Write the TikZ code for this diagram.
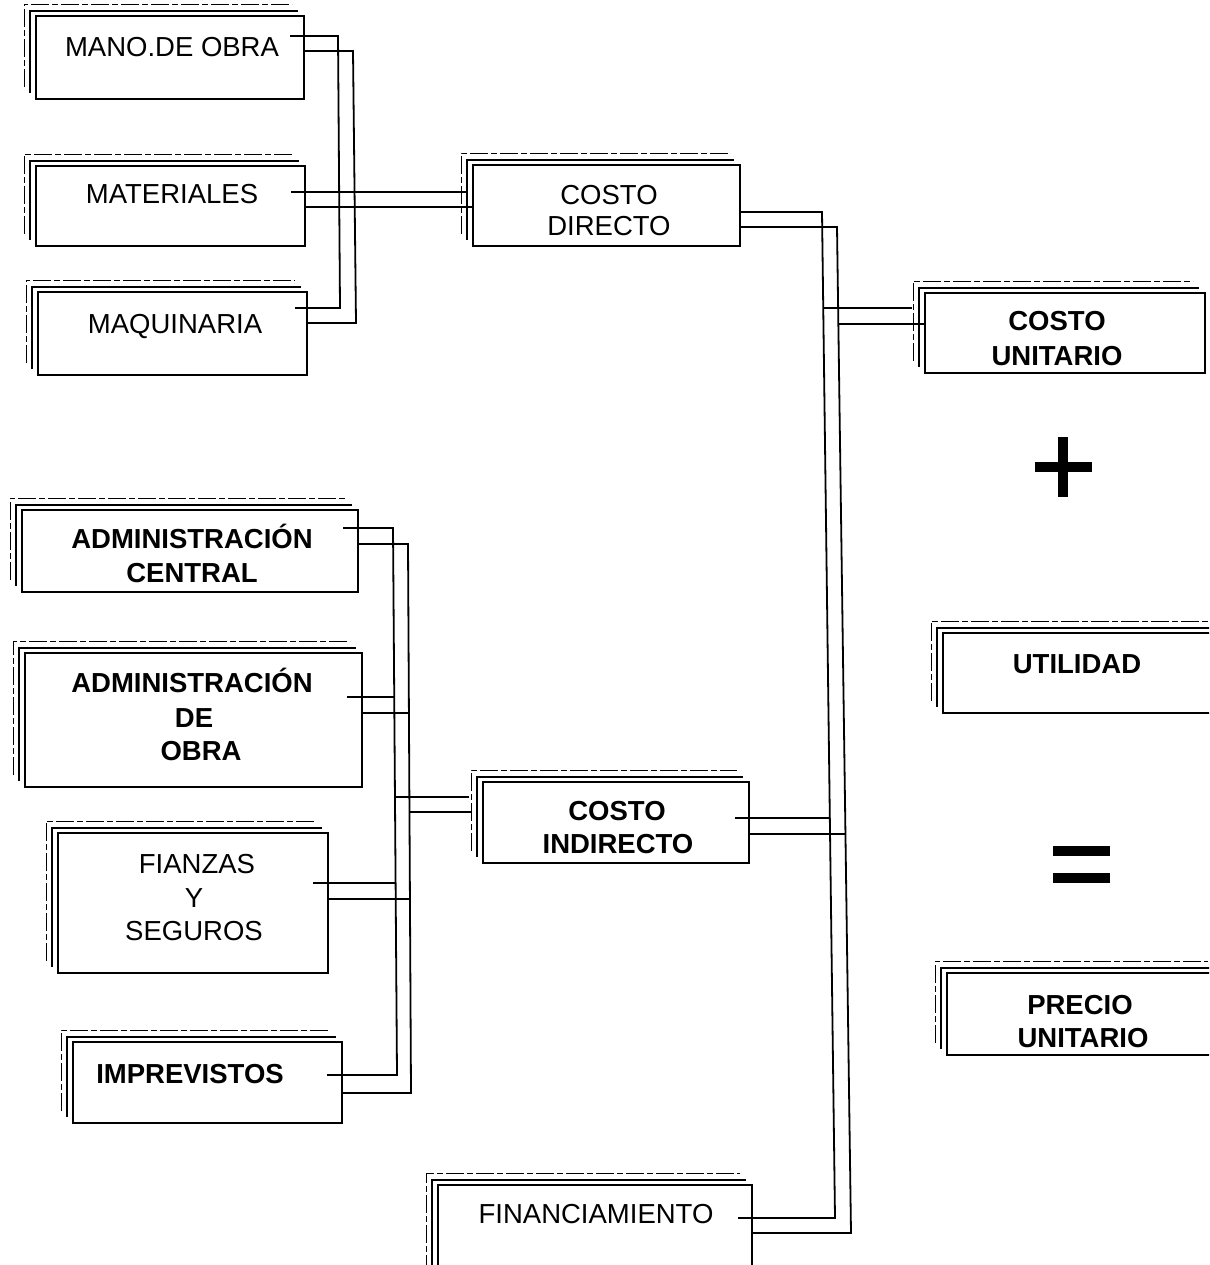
\documentclass[tikz,border=0pt]{standalone}
\usepackage{fontspec}
\setmainfont{Liberation Sans}
\usetikzlibrary{calc}
\tikzset{
  frontbox/.style={draw=black, line width=2pt, fill=white, inner sep=0pt, outer sep=0pt, rectangle},
  backA/.style={draw=black, line width=1.8pt},
  backB/.style={draw=black, line width=0.8pt, dash pattern=on 18pt off 3pt on 6pt off 3pt},
  conn/.style={draw=black, line width=1.8pt, line join=miter},
  lbl/.style={anchor=base, inner sep=0pt, font=\fontsize{27.5}{33}\selectfont},
  lblb/.style={anchor=base, inner sep=0pt, font=\fontsize{27.5}{33}\selectfont\bfseries},
  signbar/.style={fill=black},
}
% name, x1, y1, x2, y2 (pixel coordinates, y downward)
\newcommand\stackedbox[5]{%
  \draw[backB] (#2-12,#5-12) -- (#2-12,#3-12) -- (#4-12,#3-12);
  \draw[backA] (#2-6,#5-6) -- (#2-6,#3-5) -- (#4-6,#3-5);
  \node[frontbox, minimum width={#4-#2}, minimum height={#5-#3}] (#1) at ({(#2+#4)/2},{(#3+#5)/2}) {};
}
\begin{document}
\begin{tikzpicture}[x=1pt, y=-1pt]
\useasboundingbox (0,0) rectangle (1209,1265);
\fill[white] (0,0) rectangle (1209,1265);
\clip (0,0) rectangle (1209,1265);

% ---------- boxes ----------
\stackedbox{mano}{36}{16}{304}{99}
\stackedbox{mat}{36}{166}{305}{246}
\stackedbox{maq}{38}{292}{307}{375}
\stackedbox{cd}{473}{165}{740}{246}
\stackedbox{cu}{925}{293}{1205}{373}
\stackedbox{util}{943}{633}{1220}{713}
\stackedbox{pu}{947}{973}{1220}{1055}
\stackedbox{ac}{22}{510}{358}{592}
\stackedbox{ado}{25}{653}{362}{787}
\stackedbox{fy}{58}{833}{328}{973}
\stackedbox{imp}{73}{1042}{342}{1123}
\stackedbox{ci}{483}{782}{749}{863}
\stackedbox{fin}{438}{1185}{752}{1285}

% ---------- bend coordinates ----------
\coordinate (a1t) at (338,36);   \coordinate (a1b) at (340,308);
\coordinate (a2t) at (353,51);   \coordinate (a2b) at (356,323);
\coordinate (b1) at (0,192);     \coordinate (b2) at (0,207);
\coordinate (c1t) at (822,212);  \coordinate (c1u) at (823.2,308);
\coordinate (c1i) at (829.8,818); \coordinate (c1b) at (835,1218);
\coordinate (c2t) at (837,227);  \coordinate (c2u) at (838.4,324);
\coordinate (c2i) at (845.5,834); \coordinate (c2b) at (851,1233);
\coordinate (d1t) at (393,528);  \coordinate (d1o) at (394.2,697);
\coordinate (d1c) at (395,797);  \coordinate (d1f) at (395.6,883);
\coordinate (d1b) at (397,1075);
\coordinate (d2t) at (408,544);  \coordinate (d2o) at (408.9,713);
\coordinate (d2c) at (409.5,812); \coordinate (d2f) at (409.9,899);
\coordinate (d2b) at (411,1093);

% ---------- connectors: top group ----------
\draw[conn] ($(mano.east|-a1t)+(-14,0)$) -- (a1t) -- (a1b) -- ($(maq.east|-a1b)+(-12,0)$);
\draw[conn] (mano.east|-a2t) -- (a2t) -- (a2b) -- (maq.east|-a2b);
\draw[conn] ($(mat.east|-b1)+(-14,0)$) -- ($(cd.west|-b1)+(-6,0)$);
\draw[conn] (mat.east|-b2) -- (cd.west|-b2);

% ---------- connectors: right bus ----------
\draw[conn] (cd.east|-c1t) -- (c1t) -- (c1b) -- ($(fin.east|-c1b)+(-14,0)$);
\draw[conn] (cd.east|-c2t) -- (c2t) -- (c2b) -- (fin.east|-c2b);
\draw[conn] (c1u) -- ($(cu.west|-c1u)+(-13,0)$);
\draw[conn] (c2u) -- (cu.west|-c2u);
\draw[conn] ($(ci.east|-c1i)+(-14,0)$) -- (c1i);
\draw[conn] (ci.east|-c2i) -- (c2i);

% ---------- connectors: lower-left group ----------
\draw[conn] ($(ac.east|-d1t)+(-15,0)$) -- (d1t) -- (d1b) -- ($(imp.east|-d1b)+(-15,0)$);
\draw[conn] (ac.east|-d2t) -- (d2t) -- (d2b) -- (imp.east|-d2b);
\draw[conn] ($(ado.east|-d1o)+(-15,0)$) -- (d1o);
\draw[conn] (ado.east|-d2o) -- (d2o);
\draw[conn] ($(fy.east|-d1f)+(-15,0)$) -- (d1f);
\draw[conn] (fy.east|-d2f) -- (d2f);
\draw[conn] (d1c) -- ($(ci.west|-d1c)+(-14,0)$);
\draw[conn] (d2c) -- ($(ci.west|-d2c)+(-12,0)$);

% ---------- plus and equals ----------
\fill[signbar] (1058,437) rectangle (1068,497);
\fill[signbar] (1035,462) rectangle (1092,472);
\fill[signbar] (1053,846) rectangle (1110,856);
\fill[signbar] (1053,873) rectangle (1110,883);

% ---------- labels ----------
\node[lbl] (manoT) at (172,57) {MANO.DE OBRA};
\node[lbl] (matT) at (172,204) {MATERIALES};
\node[lbl] (maqT) at (175,333) {MAQUINARIA};
\node[lbl] (cdT1) at (609,205) {COSTO};
\node[lbl] (cdT2) at (609,236) {DIRECTO};
\node[lblb] (cuT1) at (1057,330) {COSTO};
\node[lblb] (cuT2) at (1057,365) {UNITARIO};
\node[lblb] (utT) at (1077,673) {UTILIDAD};
\node[lblb] (puT1) at (1080,1014) {PRECIO};
\node[lblb] (puT2) at (1083,1047) {UNITARIO};
\node[lblb] (acT1) at (192,548) {ADMINISTRACIÓN};
\node[lblb] (acT2) at (192,582) {CENTRAL};
\node[lblb] (adoT1) at (192,692) {ADMINISTRACIÓN};
\node[lblb] (adoT2) at (194,727) {DE};
\node[lblb] (adoT3) at (201,760) {OBRA};
\node[lbl] (fyT1) at (197,873) {FIANZAS};
\node[lbl] (fyT2) at (194,907) {Y};
\node[lbl] (fyT3) at (194,940) {SEGUROS};
\node[lblb] (impT) at (190,1083) {IMPREVISTOS};
\node[lblb] (ciT1) at (617,820) {COSTO};
\node[lblb] (ciT2) at (618,853) {INDIRECTO};
\node[lbl] (finT) at (596,1223) {FINANCIAMIENTO};
\end{tikzpicture}
\end{document}
